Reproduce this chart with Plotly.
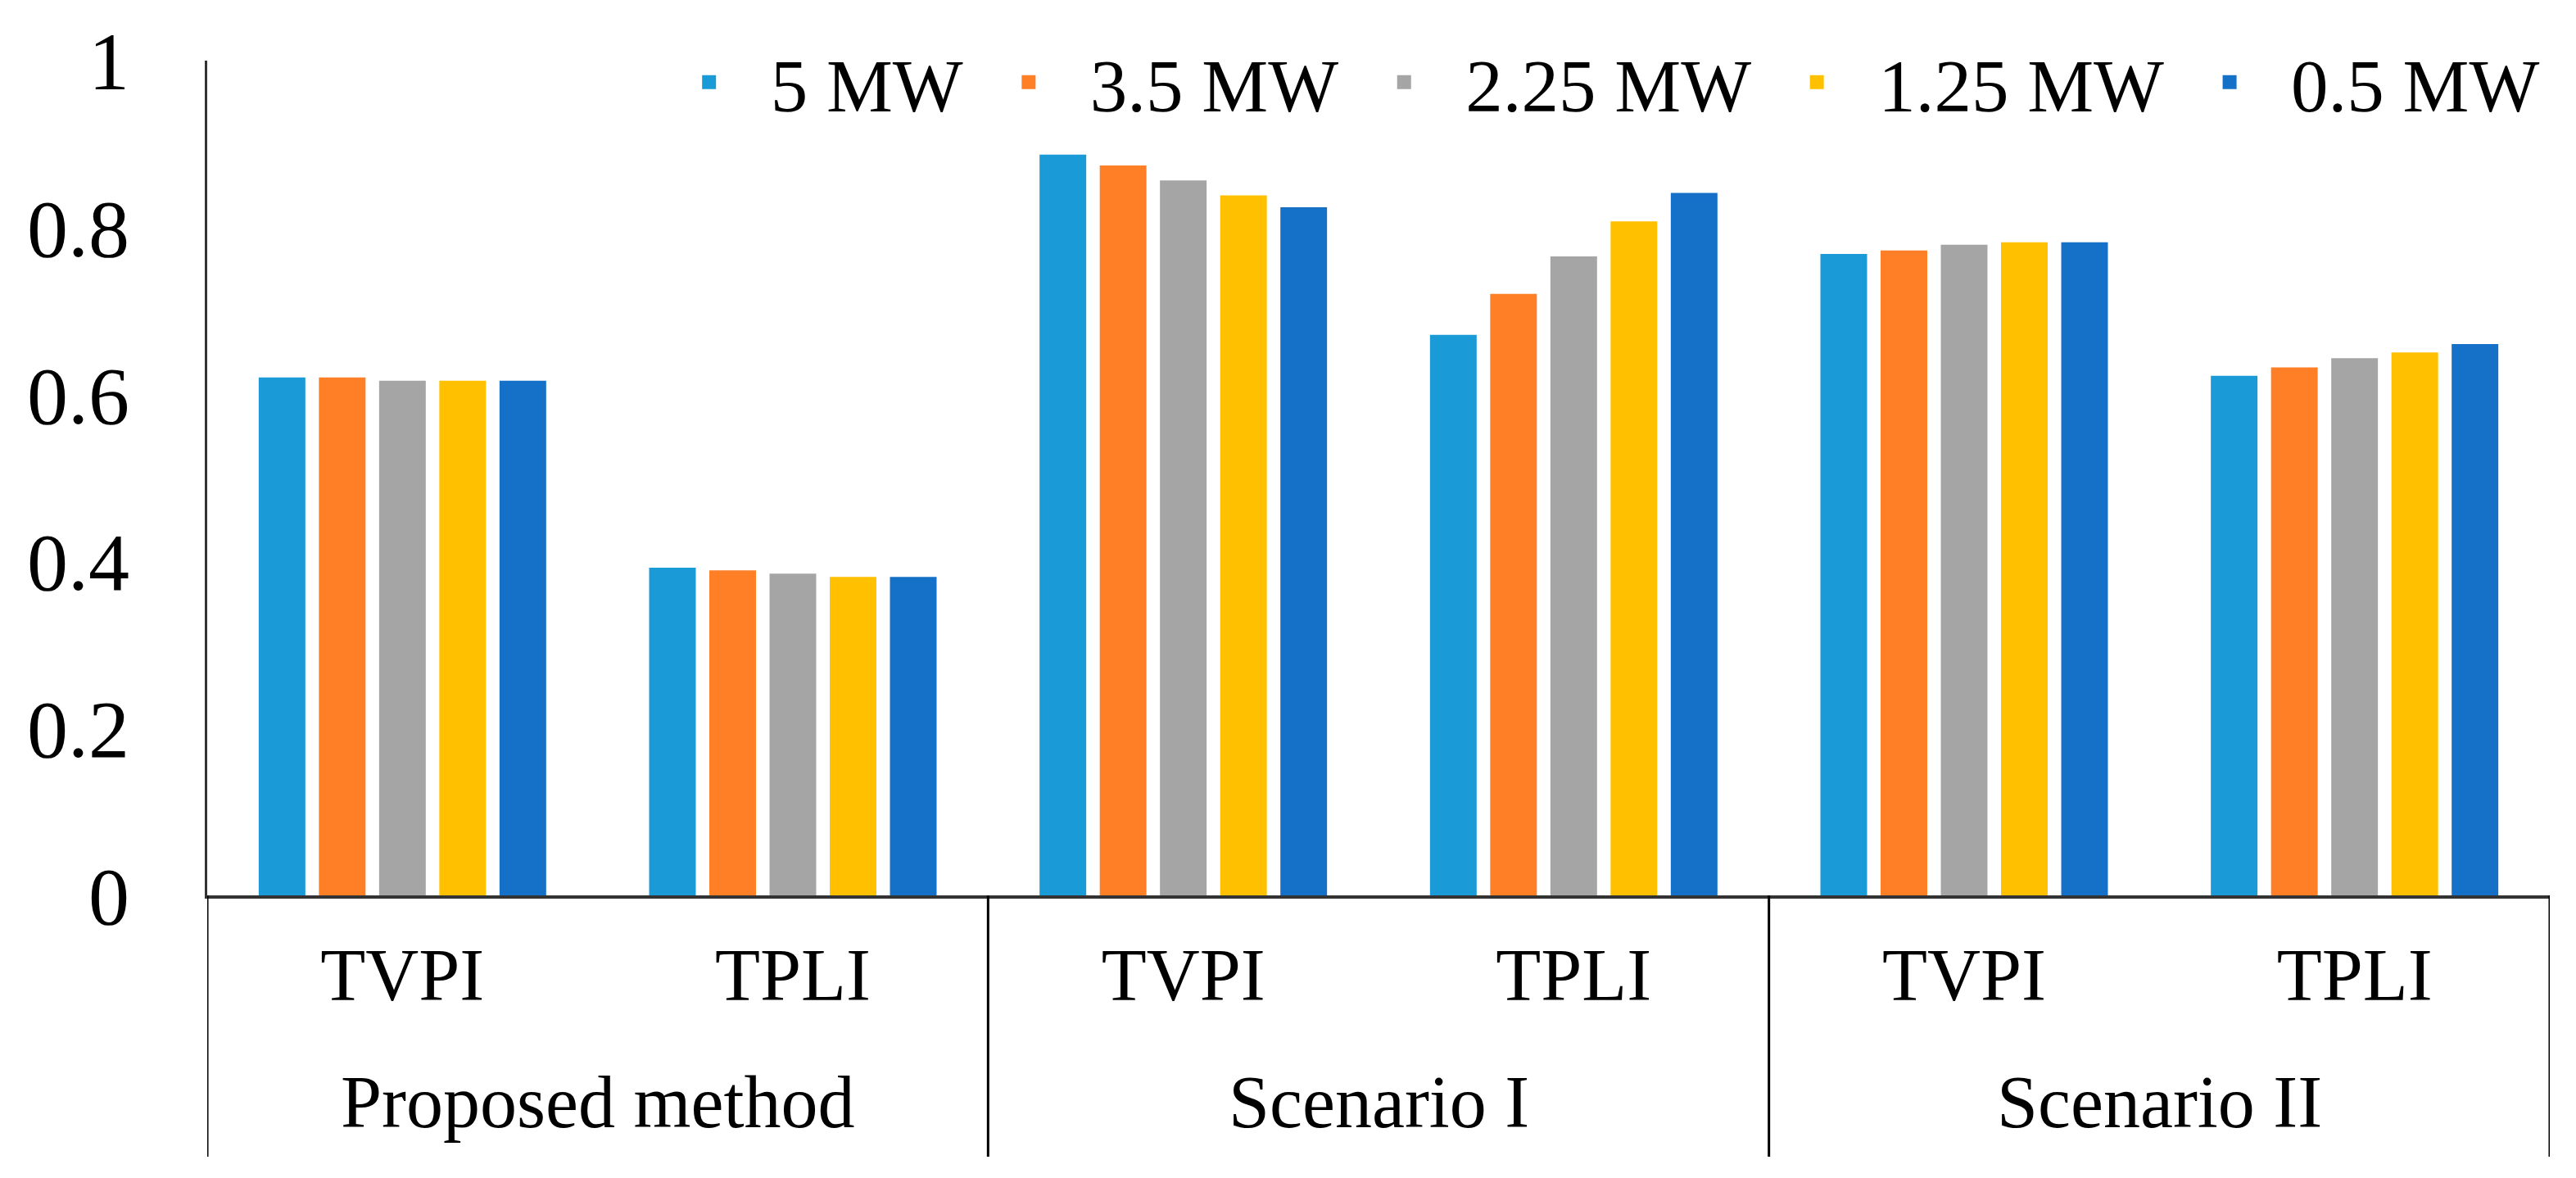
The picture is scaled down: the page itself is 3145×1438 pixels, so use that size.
import plotly.graph_objects as go

groups = ["Proposed method", "Proposed method", "Scenario I", "Scenario I", "Scenario II", "Scenario II"]
metrics = ["TVPI", "TPLI", "TVPI", "TPLI", "TVPI", "TPLI"]
series_names = ["5 MW", "3.5 MW", "2.25 MW", "1.25 MW", "0.5 MW"]

v_5mw = [0.618, 0.390, 0.885, 0.669, 0.766, 0.620]
v_3_5mw = [0.618, 0.387, 0.872, 0.718, 0.770, 0.630]
v_2_25mw = [0.614, 0.383, 0.854, 0.763, 0.777, 0.641]
v_1_25mw = [0.614, 0.379, 0.836, 0.805, 0.780, 0.648]
v_0_5mw = [0.614, 0.379, 0.822, 0.839, 0.780, 0.658]

series_values = [v_5mw, v_3_5mw, v_2_25mw, v_1_25mw, v_0_5mw]
colors = ["#1A9BD7", "#FF7F27", "#A5A5A5", "#FFC000", "#1571C8"]

y_tickvals = [0, 0.2, 0.4, 0.6, 0.8, 1]
y_ticktext = ["0", "0.2", "0.4", "0.6", "0.8", "1"]

FONT = "Liberation Serif, Times New Roman, serif"
AXIS_COLOR = "#333333"

# unique category keys (group + metric); displayed tick text is the metric
cat_keys = [g + " | " + m for g, m in zip(groups, metrics)]

fig = go.Figure()
for name, vals, col in zip(series_names, series_values, colors):
    fig.add_trace(go.Bar(x=cat_keys, y=vals, name=name,
                         marker=dict(color=col, line=dict(color=col, width=5))))

# group labels and dividers derived from the group list
unique_groups = []
for g in groups:
    if g not in unique_groups:
        unique_groups.append(g)

annotations = []
shapes = []
boundaries = [-0.5]
for g in unique_groups:
    idx = [i for i, gg in enumerate(groups) if gg == g]
    annotations.append(dict(x=sum(idx) / len(idx), xref="x", y=-0.2475, yref="paper",
                            text=g, showarrow=False, xanchor="center", yanchor="middle",
                            font=dict(family=FONT, size=90, color="black")))
    boundaries.append(max(idx) + 0.5)
for b in boundaries:
    shapes.append(dict(type="line", xref="x", yref="paper", x0=b, x1=b, y0=0, y1=-0.3131,
                       line=dict(color="black", width=3)))

fig.update_layout(
    width=3145, height=1438,
    paper_bgcolor="white", plot_bgcolor="white",
    font=dict(family=FONT, size=90, color="black"),
    margin=dict(l=245, r=40, t=63, b=353),
    barmode="group", bargap=0.229, bargroupgap=0.293,
    showlegend=True,
    legend=dict(orientation="h", x=0.188, y=0.974, xanchor="left", yanchor="middle",
                font=dict(family=FONT, size=91, color="black"),
                bgcolor="rgba(0,0,0,0)", itemwidth=140),
    annotations=annotations,
    shapes=shapes,
)
fig.update_yaxes(range=[0, 1], tickvals=y_tickvals, ticktext=y_ticktext, showgrid=False,
                 zeroline=False, showline=True, linecolor=AXIS_COLOR, linewidth=3,
                 ticks="", ticklabelstandoff=72, tickfont=dict(family=FONT, size=100, color="black"))
fig.update_xaxes(type="category", range=[-0.5, len(cat_keys) - 0.5],
                 tickmode="array", tickvals=cat_keys, ticktext=metrics,
                 showline=True, linecolor=AXIS_COLOR, linewidth=3.5, ticks="",
                 ticklabelstandoff=16,
                 tickfont=dict(family=FONT, size=90, color="black"), showgrid=False)

fig.write_html("out.html")
